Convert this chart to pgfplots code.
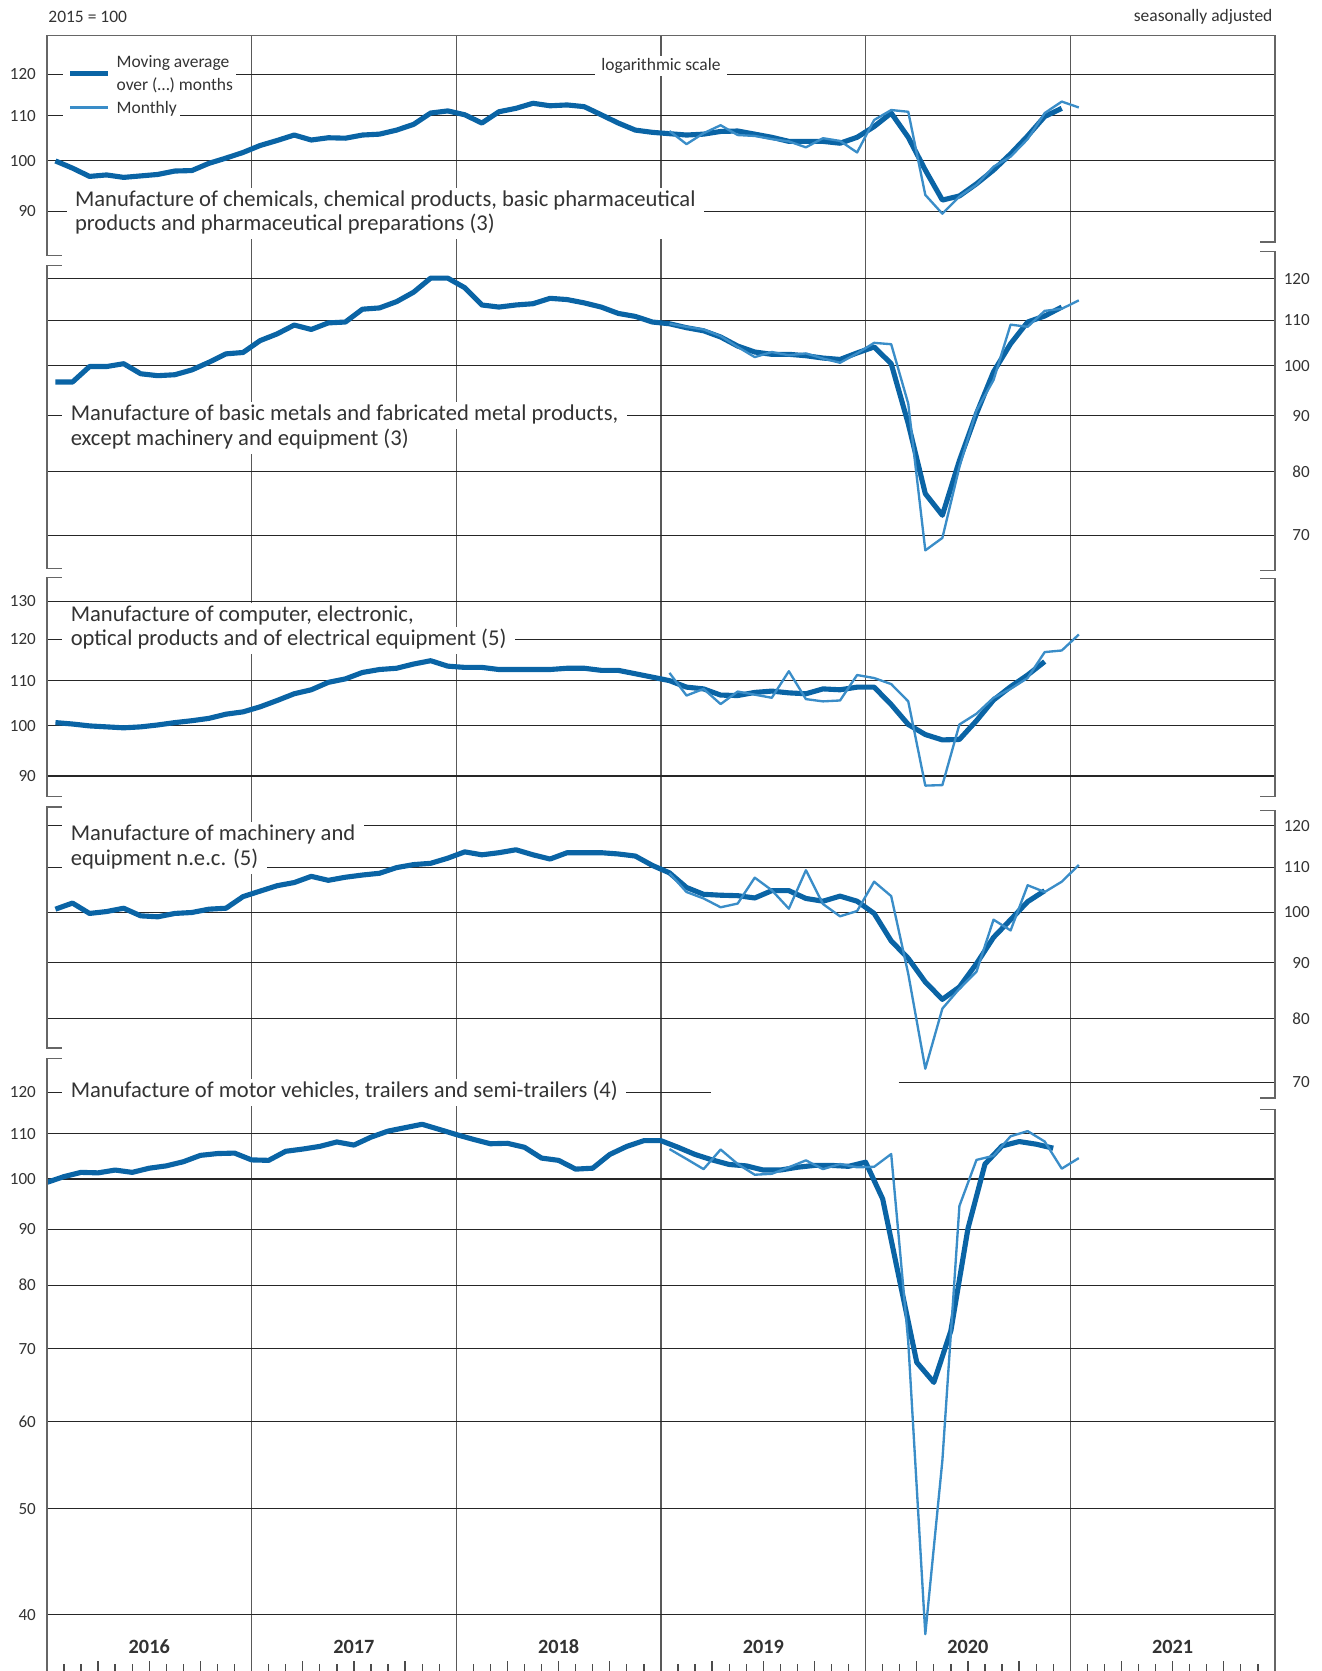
\documentclass[border=0pt]{standalone}
\usepackage{pgfplots}
\pgfplotsset{compat=1.18}
\usepackage{fontspec}
\setmainfont{Carlito}
\definecolor{txt}{HTML}{333333}
\definecolor{cMA}{HTML}{0A64A5}
\definecolor{cMO}{HTML}{3A8DC8}
\newcommand\tickf{\fontsize{8}{9.6}\selectfont}
\newcommand\labf{\fontsize{10.6}{11.5}\selectfont}
\newcommand\smf{\fontsize{8.2}{10.5}\selectfont}

\pgfplotsset{
  panel/.style={scale only axis, width=576pt, xmin=-0.5, xmax=71.5,
    xtick=\empty, axis line style={draw=none}, major tick length=0pt,
    ymajorgrids, grid style={black!85, line width=0.5pt},
    yticklabel style={font=\tickf, text=txt, inner sep=0pt},
    anchor=north west},
  leftnum/.style={yticklabel style={anchor=east, xshift=-5pt}},
  rightnum/.style={yticklabel pos=right, yticklabel style={anchor=east, xshift=16.5pt}},
  maline/.style={cMA, line width=2.4pt, line join=round, no markers},
  moline/.style={cMO, line width=1.1pt, line join=round, no markers},
}

\begin{document}
\begin{tikzpicture}
\path[use as bounding box] (0,0) rectangle (620pt,-783.75pt);

% frame: year lines and month ticks
\begin{axis}[scale only axis, width=576pt, height=767.25pt, at={(22pt,-16.5pt)}, anchor=north west,
  xmin=-0.5, xmax=71.5, ymin=0, ymax=1, ytick=\empty,
  axis line style={draw=none}, tick align=inside, xtick pos=left,
  xtick={0.5,1.5,3.5,4.5,6.5,7.5,9.5,10.5,12.5,13.5,15.5,16.5,18.5,19.5,21.5,22.5,
         24.5,25.5,27.5,28.5,30.5,31.5,33.5,34.5,36.5,37.5,39.5,40.5,42.5,43.5,45.5,46.5,
         48.5,49.5,51.5,52.5,54.5,55.5,57.5,58.5,60.5,61.5,63.5,64.5,66.5,67.5,69.5,70.5},
  minor xtick={2.5,5.5,8.5,14.5,17.5,20.5,26.5,29.5,32.5,38.5,41.5,44.5,50.5,53.5,56.5,62.5,65.5,68.5},
  xticklabels={}, major tick length=3.5pt, minor tick length=4.6pt,
  tick style={black!70, line width=0.6pt},
  extra x ticks={11.5,23.5,35.5,47.5,59.5}, extra x tick labels={},
  extra x tick style={grid=major, major tick length=0pt},
  major grid style={black!65, line width=0.55pt}]
\end{axis}

% chemicals
\begin{axis}[ymode=log, panel, leftnum, at={(22pt,-16.5pt)}, height=103.5pt, ymin=81.91, ymax=130.29,
  ytick={90,100,110,120}, yticklabels={90,100,110,120}]
\addplot[maline] coordinates {(0,100.0)(1,98.5)(2,96.8)(3,97.1)(4,96.6)(5,96.9)(6,97.2)(7,97.9)(8,98.0)(9,99.5)(10,100.6)(11,101.8)(12,103.3)(13,104.4)(14,105.6)(15,104.5)(16,105.0)(17,104.9)(18,105.6)(19,105.8)(20,106.7)(21,108.0)(22,110.6)(23,111.1)(24,110.2)(25,108.3)(26,110.9)(27,111.7)(28,112.9)(29,112.3)(30,112.5)(31,112.1)(32,110.2)(33,108.3)(34,106.7)(35,106.2)(36,105.9)(37,105.6)(38,105.8)(39,106.4)(40,106.5)(41,105.8)(42,105.1)(43,104.2)(44,104.2)(45,104.2)(46,103.8)(47,105.1)(48,107.5)(49,110.6)(50,105.1)(51,98.1)(52,92.1)(53,92.9)(54,95.3)(55,98.1)(56,101.5)(57,105.4)(58,109.8)(59,111.7)};
\addplot[moline] coordinates {(36,106.5)(37,103.6)(38,106.0)(39,107.8)(40,105.6)(41,105.4)(42,104.7)(43,104.2)(44,102.9)(45,104.9)(46,104.3)(47,101.8)(48,109.0)(49,111.3)(50,110.9)(51,93.1)(52,89.5)(53,92.8)(54,95.1)(55,98.8)(56,100.9)(57,104.7)(58,110.6)(59,113.3)(60,111.9)};
\end{axis}

% basic metals
\begin{axis}[ymode=log, panel, rightnum, at={(22pt,-118pt)}, height=149.5pt, ymin=65.02, ymax=127.11,
  ytick={70,80,90,100,110,120}, yticklabels={70,80,90,100,110,120}]
\addplot[maline] coordinates {(0,96.6)(1,96.6)(2,99.8)(3,99.8)(4,100.4)(5,98.3)(6,97.9)(7,98.1)(8,99.1)(9,100.7)(10,102.5)(11,102.8)(12,105.4)(13,106.9)(14,108.9)(15,107.9)(16,109.4)(17,109.6)(18,112.6)(19,112.9)(20,114.4)(21,116.7)(22,120.2)(23,120.2)(24,117.8)(25,113.6)(26,113.1)(27,113.6)(28,113.9)(29,115.2)(30,114.9)(31,114.1)(32,113.1)(33,111.6)(34,110.9)(35,109.6)(36,109.2)(37,108.3)(38,107.6)(39,106.2)(40,104.2)(41,102.9)(42,102.4)(43,102.4)(44,102.1)(45,101.6)(46,101.3)(47,102.7)(48,104.0)(49,100.4)(50,88.5)(51,76.4)(52,73.0)(53,81.9)(54,90.4)(55,98.7)(56,104.7)(57,109.6)(58,111.0)(59,113.1)};
\addplot[moline] coordinates {(36,109.2)(37,108.5)(38,107.9)(39,106.4)(40,104.0)(41,101.8)(42,102.9)(43,102.2)(44,102.6)(45,101.5)(46,100.6)(47,102.6)(48,104.9)(49,104.6)(50,92.3)(51,67.8)(52,69.6)(53,80.8)(54,91.0)(55,97.0)(56,109.0)(57,108.5)(58,112.2)(59,112.7)(60,114.7)};
\end{axis}

% computer, electronic
\begin{axis}[ymode=log, panel, leftnum, at={(22pt,-271pt)}, height=102.5pt, ymin=86.24, ymax=136.57,
  ytick={90,100,110,120,130}, yticklabels={90,100,110,120,130}]
\addplot[maline] coordinates {(0,100.7)(1,100.4)(2,100.0)(3,99.8)(4,99.6)(5,99.8)(6,100.2)(7,100.7)(8,101.1)(9,101.6)(10,102.5)(11,103.0)(12,104.1)(13,105.5)(14,107.0)(15,107.9)(16,109.6)(17,110.4)(18,111.9)(19,112.6)(20,112.9)(21,113.9)(22,114.7)(23,113.4)(24,113.1)(25,113.1)(26,112.6)(27,112.6)(28,112.6)(29,112.6)(30,112.9)(31,112.9)(32,112.4)(33,112.4)(34,111.6)(35,110.8)(36,110.0)(37,108.5)(38,108.1)(39,106.7)(40,106.6)(41,107.3)(42,107.6)(43,107.2)(44,107.0)(45,108.1)(46,107.9)(47,108.5)(48,108.5)(49,104.6)(50,100.3)(51,98.2)(52,97.1)(53,97.2)(54,101.1)(55,105.6)(56,108.6)(57,111.3)(58,114.5)};
\addplot[moline] coordinates {(36,111.8)(37,106.6)(38,108.1)(39,104.7)(40,107.5)(41,106.8)(42,106.1)(43,112.2)(44,105.8)(45,105.3)(46,105.5)(47,111.3)(48,110.6)(49,109.2)(50,105.3)(51,88.2)(52,88.3)(53,100.3)(54,102.6)(55,106.1)(56,108.1)(57,110.6)(58,116.8)(59,117.2)(60,121.2)};
\end{axis}

% machinery
\begin{axis}[ymode=log, panel, rightnum, at={(22pt,-378.5pt)}, height=136.5pt, ymin=67.70, ymax=124.85,
  ytick={80,90,100,110,120}, yticklabels={80,90,100,110,120},
  extra y ticks={70}, extra y tick labels={70}, extra y tick style={grid=none}]
\draw[black!85, line width=0.5pt] (axis cs:49.44,70) -- (axis cs:71.5,70);
\addplot[maline] coordinates {(0,100.7)(1,102.0)(2,99.8)(3,100.2)(4,100.9)(5,99.3)(6,99.1)(7,99.8)(8,100.0)(9,100.7)(10,100.9)(11,103.4)(12,104.6)(13,105.8)(14,106.5)(15,107.9)(16,107.0)(17,107.7)(18,108.2)(19,108.6)(20,109.9)(21,110.6)(22,110.9)(23,112.1)(24,113.6)(25,112.9)(26,113.4)(27,114.1)(28,112.9)(29,111.9)(30,113.4)(31,113.4)(32,113.4)(33,113.1)(34,112.6)(35,110.4)(36,108.7)(37,105.4)(38,103.9)(39,103.7)(40,103.6)(41,103.1)(42,104.7)(43,104.7)(44,103.0)(45,102.4)(46,103.5)(47,102.4)(48,99.8)(49,94.2)(50,90.8)(51,86.4)(52,83.3)(53,85.5)(54,89.8)(55,94.9)(56,98.5)(57,102.3)(58,104.7)};
\addplot[moline] coordinates {(36,108.6)(37,104.4)(38,103.0)(39,101.1)(40,101.9)(41,107.6)(42,104.8)(43,100.8)(44,109.3)(45,101.8)(46,99.2)(47,100.3)(48,106.7)(49,103.5)(50,87.9)(51,72.0)(52,81.7)(53,85.2)(54,88.3)(55,98.5)(56,96.3)(57,105.9)(58,104.4)(59,106.7)(60,110.5)};
\end{axis}

% motor vehicles (4-month average sits between months)
\begin{axis}[ymode=log, panel, leftnum, at={(22pt,-496.5pt)}, height=287.25pt, ymin=35.53, ymax=128.83,
  ytick={40,50,60,70,80,90,100,110}, yticklabels={40,50,60,70,80,90,100,110},
  extra y ticks={120}, extra y tick labels={120}, extra y tick style={grid=none}]
\draw[black!85, line width=0.5pt] (axis cs:-0.5,120) -- (axis cs:38.44,120);
\addplot[maline] coordinates {(-0.5,99.3)(0.5,100.5)(1.5,101.4)(2.5,101.3)(3.5,101.9)(4.5,101.4)(5.5,102.3)(6.5,102.8)(7.5,103.7)(8.5,105.1)(9.5,105.5)(10.5,105.6)(11.5,104.1)(12.5,104.0)(13.5,106.0)(14.5,106.5)(15.5,107.1)(16.5,108.1)(17.5,107.4)(18.5,109.2)(19.5,110.6)(20.5,111.4)(21.5,112.2)(22.5,111.0)(23.5,109.8)(24.5,108.7)(25.5,107.7)(26.5,107.8)(27.5,106.9)(28.5,104.5)(29.5,104.0)(30.5,102.1)(31.5,102.3)(32.5,105.3)(33.5,107.1)(34.5,108.4)(35.5,108.4)(36.5,106.9)(37.5,105.3)(38.5,104.1)(39.5,103.1)(40.5,102.8)(41.5,101.9)(42.5,101.9)(43.5,102.5)(44.5,102.9)(45.5,102.9)(46.5,102.7)(47.5,103.6)(48.5,95.9)(49.5,80.7)(50.5,68.0)(51.5,65.2)(52.5,72.7)(53.5,90.1)(54.5,103.2)(55.5,107.2)(56.5,108.2)(57.5,107.6)(58.5,106.7)};
\addplot[moline] coordinates {(36,106.5)(37,104.3)(38,102.1)(39,106.4)(40,103.2)(41,100.9)(42,101.1)(43,102.5)(44,104.0)(45,102.1)(46,103.2)(47,102.5)(48,102.6)(49,105.4)(50,71.0)(51,38.4)(52,55.3)(53,94.5)(54,104.1)(55,105.0)(56,109.4)(57,110.6)(58,108.2)(59,102.2)(60,104.5)};
\end{axis}

\begin{scope}[x=0.5pt, y=-0.5pt, fr/.style={black!60, line width=0.6pt},
  lab/.style={anchor=west, fill=white, font=\labf, text=txt, inner xsep=4pt, inner ysep=0.5pt}]
% frame pieces
\draw[fr] (44,33) -- (1196,33);
\draw[fr] (44,33) -- (44,240) -- (58,240);
\draw[fr] (1196,33) -- (1196,227) -- (1182,227);
\draw[fr] (58,249) -- (44,249) -- (44,533) -- (58,533);
\draw[fr] (1182,236) -- (1196,236) -- (1196,535) -- (1182,535);
\draw[fr] (58,542) -- (44,542) -- (44,747) -- (58,747);
\draw[fr] (1182,543) -- (1196,543) -- (1196,747) -- (1182,747);
\draw[fr] (58,757) -- (44,757) -- (44,983) -- (58,983);
\draw[fr] (1182,760) -- (1196,760) -- (1196,1030) -- (1182,1030);
\draw[fr] (58,993) -- (44,993) -- (44,1570);
\draw[fr] (1182,1041) -- (1196,1041) -- (1196,1570);
% headers
\node[anchor=west, font=\smf, text=txt, inner sep=0pt] at (45,16) {2015 = 100};
\node[anchor=east, font=\smf, text=txt, inner sep=0pt] at (1194,16) {seasonally adjusted};
\node[fill=white, font=\smf, text=txt, inner xsep=3pt, inner ysep=1pt] at (620,62) {logarithmic scale};
% years
\foreach \yr [count=\i from 0] in {2016,2017,2018,2019,2020,2021}
  \node[font=\bfseries\fontsize{9.5}{11}\selectfont, text=txt] at (140+192*\i,1545) {\yr};
% panel titles
\node[lab, align=left] at (62,200.5) {\strut Manufacture of chemicals, chemical products, basic pharmaceutical\\\strut products and pharmaceutical preparations (3)};
\node[lab] at (58,390) {\strut Manufacture of basic metals and fabricated metal products,};
\node[lab] at (58,413) {\strut except machinery and equipment (3)};
\node[lab] at (58,578) {\strut Manufacture of computer, electronic,};
\node[lab] at (58,601) {\strut optical products and of electrical equipment (5)};
\node[lab] at (58,784) {\strut Manufacture of machinery and};
\node[lab] at (58,807) {\strut equipment n.e.c. (5)};
\node[lab] at (58,1025) {\strut Manufacture of motor vehicles, trailers and semi-trailers (4)};
% legend
\fill[white] (59,56) rectangle (106,112);
\draw[cMA, line width=2.4pt] (66,69) -- (101,69);
\draw[cMO, line width=1.1pt] (66,101) -- (101,101);
\node[anchor=west, fill=white, font=\smf, text=txt, align=left, inner xsep=1.5pt, inner ysep=1pt] at (106,69.5) {Moving average\\over (…) months};
\node[anchor=west, fill=white, font=\smf, text=txt, inner xsep=1.5pt, inner ysep=1pt] at (106,102) {Monthly};
\end{scope}
\end{tikzpicture}
\end{document}
